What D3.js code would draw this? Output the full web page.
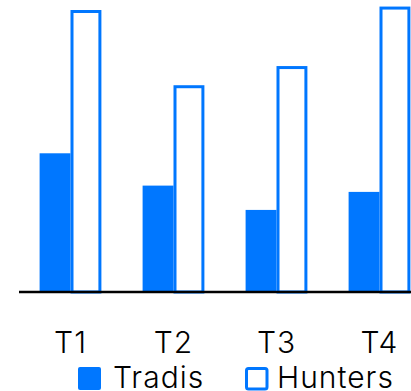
<!DOCTYPE html>
<html>
<head>
<meta charset="utf-8">
<script src="https://cdn.jsdelivr.net/npm/d3@7"></script>
<style>
  html, body { margin: 0; padding: 0; background: #fff; }
  svg { display: block; }
  text { font-family: "Inter", "Open Sans", sans-serif; font-weight: 300; letter-spacing: 1px; fill: #000; }
</style>
</head>
<body>
<script>
// Chart data
const categories = ["T1", "T2", "T3", "T4"];
const seriesNames = ["Tradis", "Hunters"];
const tradisValues = [48.5, 37.2, 28.7, 35.0];
const huntersValues = [98.6, 72.3, 79.0, 99.8];

const W = 411, H = 391;
const blue = "#0077ff";
const strokeW = 3;

const svg = d3.select("body").append("svg")
  .attr("width", W).attr("height", H);

const x0 = d3.scaleBand()
  .domain(categories)
  .range([19, 431])
  .paddingInner(0.4)
  .paddingOuter(0.2);

const x1 = d3.scaleBand()
  .domain(seriesNames)
  .range([0, x0.bandwidth()]);

const y = d3.scaleLinear()
  .domain([0, 100])
  .range([292, 6]);

const rows = categories.map((c, i) => ({ cat: c, Tradis: tradisValues[i], Hunters: huntersValues[i] }));

const groups = svg.append("g").selectAll("g")
  .data(rows)
  .join("g")
  .attr("transform", d => `translate(${x0(d.cat)},0)`);

// Filled bars
groups.append("rect")
  .attr("x", x1("Tradis"))
  .attr("y", d => y(d.Tradis))
  .attr("width", x1.bandwidth())
  .attr("height", d => y(0) - y(d.Tradis))
  .attr("fill", blue);

// Outlined bars (stroke kept inside the band)
groups.append("rect")
  .attr("x", x1("Hunters") + strokeW / 2)
  .attr("y", d => y(d.Hunters) + strokeW / 2)
  .attr("width", x1.bandwidth() - strokeW)
  .attr("height", d => y(0) - y(d.Hunters) - strokeW / 2)
  .attr("fill", "#fff")
  .attr("stroke", blue)
  .attr("stroke-width", strokeW);

// Baseline
svg.append("line")
  .attr("x1", 19).attr("x2", W)
  .attr("y1", y(0)).attr("y2", y(0))
  .attr("stroke", "#000")
  .attr("stroke-width", 2.6);

// Category labels
const xAxis = d3.axisBottom(x0).tickSize(0).tickPadding(0);
const axisG = svg.append("g")
  .attr("transform", "translate(0,353)")
  .call(xAxis);
axisG.select(".domain").remove();
axisG.selectAll("text")
  .attr("dy", 0)
  .attr("y", 0)
  .style("font-family", "Inter, 'Open Sans', sans-serif")
  .style("font-weight", 300)
  .style("font-size", "30px")
  .attr("fill", "#000");

// Legend
const legend = svg.append("g");
legend.append("rect")
  .attr("x", 78).attr("y", 367)
  .attr("width", 23).attr("height", 23)
  .attr("rx", 2)
  .attr("fill", blue);
legend.append("text")
  .attr("x", 113).attr("y", 388)
  .style("font-size", "30px")
  .text(seriesNames[0]);
legend.append("rect")
  .attr("x", 246.5).attr("y", 368.5)
  .attr("width", 20.5).attr("height", 20.5)
  .attr("rx", 2)
  .attr("fill", "#fff")
  .attr("stroke", blue)
  .attr("stroke-width", strokeW);
legend.append("text")
  .attr("x", 277).attr("y", 388)
  .style("font-size", "30px")
  .text(seriesNames[1]);
</script>
</body>
</html>
